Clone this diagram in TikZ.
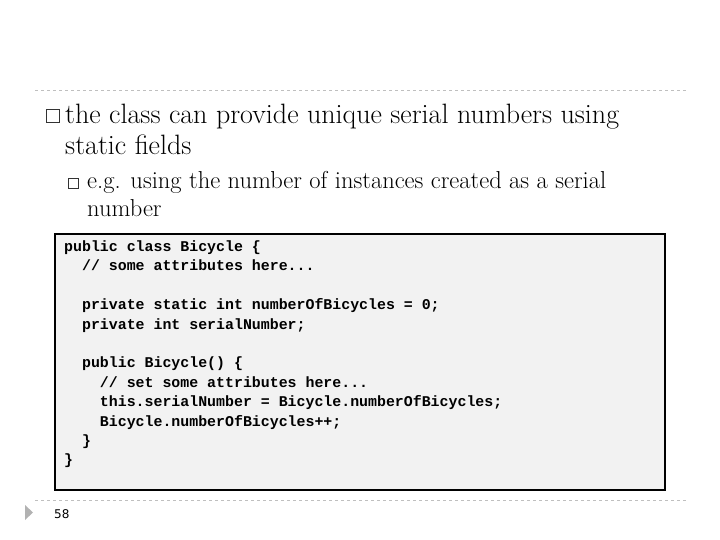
\documentclass[tikz,border=0pt]{standalone}
\usepackage{fontspec}
\newfontfamily\codefont{Liberation Mono}
\newfontfamily\numfont{DejaVu Sans}
\usetikzlibrary{positioning}
\newcommand\threedots{...}

\begin{document}
\begin{tikzpicture}[x=1pt, y=-1pt,
    rule/.style={draw=gray!50, dashed, line width=0.6pt},
    bullet/.style={draw=black!80, line width=0.5pt, minimum size=#1, inner sep=0pt},
    maintext/.style={anchor=base west, inner sep=0pt, font=\fontsize{28}{31}\selectfont},
    subtext/.style={anchor=base west, inner sep=0pt, font=\fontsize{24.5}{27}\selectfont},
    codebox/.style={draw=black, line width=2.5pt, fill=black!5},
    codeline/.style={anchor=base west, inner sep=0pt, font=\codefont\bfseries\fontsize{14.9}{19.4}\selectfont}
]
\useasboundingbox (0,0) rectangle (720,540);

% frame rules
\draw [rule] (35,90) -- (686,90);
\draw [rule] (35,500) -- (686,500);

% bullets
\node [bullet=13pt] (b1) at (53,116) {};
\node [maintext] (t1) at (65,124) {the class can provide unique serial numbers using};
\node [maintext] (t2) at (65,155) {static fields};
\node [bullet=10pt] (b2) at (73,183) {};
\node [subtext] (s1) at (87,189) {e.g. using the number of instances created as a serial};
\node [subtext] (s2) at (87,216) {number};

% code
\draw [codebox] (55,234) rectangle (665,490);
\foreach \txt [count=\i] in {%
    {public class Bicycle \{},
    {\ \ // some attributes here\threedots},
    {},
    {\ \ private static int numberOfBicycles = 0;},
    {\ \ private int serialNumber;},
    {},
    {\ \ public Bicycle() \{},
    {\ \ \ \ // set some attributes here\threedots},
    {\ \ \ \ this.serialNumber = Bicycle.numberOfBicycles;},
    {\ \ \ \ Bicycle.numberOfBicycles++;},
    {\ \ \}},
    {\}}}
  \node [codeline] (c\i) at (64,{232+19.4*\i}) {\txt};

% page number
\fill [gray!60] (25,505) -- (33,512.5) -- (25,520) -- cycle;
\node [anchor=base west, inner sep=0pt, font=\numfont\fontsize{12}{14}\selectfont] (page) at (54,518) {58};
\end{tikzpicture}
\end{document}
